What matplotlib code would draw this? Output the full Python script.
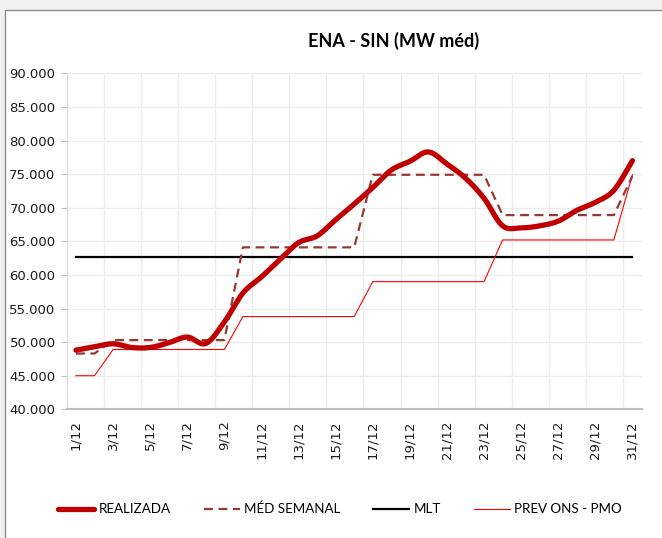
import numpy as np
import matplotlib
matplotlib.use("Agg")
import matplotlib.pyplot as plt
from matplotlib.patches import Rectangle
from matplotlib.ticker import FuncFormatter

days = [f"{d}/12" for d in range(1, 32)]

realizada = [48800, 49300, 49750, 49200, 49200, 49900, 50750, 49800, 53000, 57300,
             59700, 62300, 64800, 65800, 68200, 70550, 73000, 75600, 76900, 78300,
             76500, 74400, 71400, 67300, 67000, 67300, 68000, 69600, 70800, 72600,
             77000]
med_semanal = [48300, 48300] + [50300] * 7 + [64100] * 7 + [74900] * 7 + [68900] * 7 + [74700]
mlt = [62600] * 31
prev_ons = [45000, 45000] + [48900] * 7 + [53800] * 7 + [59000] * 7 + [65200] * 7 + [74900]

W, H = 662, 538
fig = plt.figure(figsize=(W / 100, H / 100), dpi=100, facecolor="#f2f2f2")
# chart area
fig.patches.append(Rectangle((4.5 / W, -0.1), 1.2, (H - 10) / H + 0.1, transform=fig.transFigure,
                             facecolor="white", edgecolor="#8c8c8c", linewidth=1.0, zorder=-5))

ax = fig.add_axes([66.7 / W, (H - 409.3) / H, (641.7 - 66.7) / W, (409.3 - 73.3) / H])
ax.set_facecolor("white")
ax.set_zorder(2)

x = np.arange(len(days))


def smooth(xv, yv, n=20):
    xv = np.asarray(xv, float)
    yv = np.asarray(yv, float)
    P = np.column_stack([xv, yv])
    Pe = np.vstack([P[0], P, P[-1]])
    out = []
    t = np.linspace(0, 1, n)[:, None]
    for i in range(len(P) - 1):
        p0, p3 = Pe[i + 1], Pe[i + 2]
        c1 = p0 + (Pe[i + 2] - Pe[i]) / 6.0
        c2 = p3 - (Pe[i + 3] - Pe[i + 1]) / 6.0
        seg = (1 - t) ** 3 * p0 + 3 * (1 - t) ** 2 * t * c1 + 3 * (1 - t) * t ** 2 * c2 + t ** 3 * p3
        out.append(seg if i == 0 else seg[1:])
    out = np.vstack(out)
    return out[:, 0], out[:, 1]


sx, sy = smooth(x, realizada)
ax.plot(sx, sy, color="#c00000", lw=3.8, solid_capstyle="round", label="REALIZADA", zorder=5)
ax.plot(x, med_semanal, color="#953735", lw=1.6, dashes=(4, 2.5), label="MÉD SEMANAL", zorder=4)
ax.plot(x, mlt, color="black", lw=1.6, label="MLT", zorder=3)
ax.plot(x, prev_ons, color="#ff0000", lw=0.8, label="PREV ONS - PMO", zorder=3)

ax.set_xlim(-0.5, len(days) - 0.5)
ax.set_ylim(40000, 90000)
ax.set_yticks(np.arange(40000, 90001, 5000))
ax.yaxis.set_major_formatter(FuncFormatter(lambda v, p: f"{int(v):,}".replace(",", ".")))
ax.set_xticks(x[::2])
ax.set_xticklabels(days[::2], rotation=90)
ax.set_xticks(np.arange(1.5, len(days) - 1, 2), minor=True)

ax.grid(True, which="major", axis="y", color="#ececec", lw=1.0)
ax.grid(True, which="minor", axis="x", color="#ececec", lw=1.0)
ax.set_axisbelow(True)
for s in ["top", "right"]:
    ax.spines[s].set_visible(False)
ax.spines["left"].set_color("#d9d9d9")
ax.spines["bottom"].set_color("#bfbfbf")
ax.spines["bottom"].set_linewidth(1.5)
ax.tick_params(axis="y", which="major", length=4, color="#bfbfbf", labelsize=9.5, pad=4, labelcolor="#1a1a1a")
ax.tick_params(axis="x", which="major", length=0, labelsize=9.5, pad=8, labelcolor="#1a1a1a")
ax.tick_params(axis="x", which="minor", length=0)

fig.text(394 / W, 1 - 41 / H, "ENA - SIN (MW méd)", ha="center", va="center",
         fontsize=13, fontweight="bold", family="Lato")

leg = fig.legend(loc="center", bbox_to_anchor=(340 / W, 1 - 509 / H), ncol=4, frameon=False,
                 prop={"family": "Lato", "size": 9.6}, handlelength=2.7, handletextpad=0.3,
                 columnspacing=2.5)

fig.savefig("out.png", dpi=100, facecolor=fig.get_facecolor())
